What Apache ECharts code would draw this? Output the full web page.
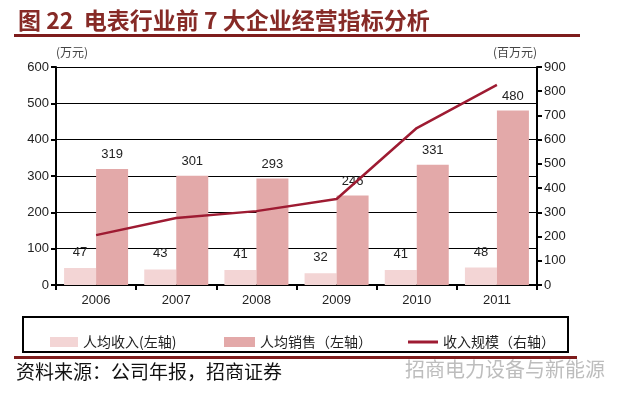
<!DOCTYPE html>
<html><head><meta charset="utf-8">
<script src="https://cdn.jsdelivr.net/npm/echarts@6/dist/echarts.min.js"></script>
<style>html,body{margin:0;padding:0;background:#fff}#c{width:625px;height:399px}</style>
</head><body><div id="c"></div>
<script>
const categories = ['2006','2007','2008','2009','2010','2011'];
const incomePerCapita = [47, 43, 41, 32, 41, 48];
const salesPerCapita = [319, 301, 293, 246, 331, 480];
const revenueScale = [206, 277, 305, 355, 648, 826];
const leftTicks = [0, 600, 100];
const rightTicks = [0, 900, 100];

const cjk = '"Noto Sans CJK SC", sans-serif';
const num = '"Liberation Sans", Arial, sans-serif';
const chart = echarts.init(document.getElementById('c'), null, {renderer:'canvas'});
chart.setOption({
  backgroundColor:'#fff',
  animation:false,
  title:{ text:'图 22  电表行业前 7 大企业经营指标分析', left:13, top:4,
    textStyle:{ fontFamily:cjk, fontSize:23, fontWeight:'bold', color:'#862A26' } },
  grid:{ left:56, right:88, top:67, bottom:114 },
  xAxis:{ type:'category', data:categories,
    axisLine:{ lineStyle:{ color:'#000', width:2 } },
    axisTick:{ show:true, length:5, lineStyle:{ color:'#000', width:2 } },
    axisLabel:{ fontFamily:num, fontSize:13, color:'#222', margin:9 } },
  yAxis:[
    { type:'value', min:leftTicks[0], max:leftTicks[1], interval:leftTicks[2],
      name:'(万元)', nameGap:9, nameTextStyle:{ fontFamily:cjk, fontSize:12, color:'#444', align:'left', padding:[0,0,0,0] },
      axisLine:{ show:true, lineStyle:{ color:'#000', width:2 } },
      axisTick:{ show:true, length:5, lineStyle:{ color:'#000', width:2 } },
      splitLine:{ show:true, lineStyle:{ color:'#000', width:1 } },
      axisLabel:{ fontFamily:num, fontSize:13, color:'#222', margin:7 } },
    { type:'value', min:rightTicks[0], max:rightTicks[1], interval:rightTicks[2],
      name:'(百万元)', nameGap:9, nameTextStyle:{ fontFamily:cjk, fontSize:12, color:'#444', align:'right' },
      axisLine:{ show:true, lineStyle:{ color:'#000', width:2 } },
      axisTick:{ show:true, length:5, lineStyle:{ color:'#000', width:2 } },
      splitLine:{ show:false },
      axisLabel:{ fontFamily:num, fontSize:13, color:'#222', margin:7 } }
  ],
  legend:[
    { left:45, top:330, itemWidth:28, itemHeight:10, icon:'rect', data:['人均收入(左轴)'],
      textStyle:{ fontFamily:cjk, fontSize:14, color:'#222' } },
    { left:219, top:330, itemWidth:31, itemHeight:10, icon:'rect', data:['人均销售（左轴）'],
      textStyle:{ fontFamily:cjk, fontSize:14, color:'#222' } },
    { left:403, top:330, itemWidth:30, itemHeight:3, icon:'rect', data:['收入规模（右轴）'],
      textStyle:{ fontFamily:cjk, fontSize:14, color:'#222' } }
  ],
  series:[
    { name:'人均收入(左轴)', type:'bar', data:incomePerCapita, barWidth:32, barGap:'0%',
      itemStyle:{ color:'#F3D5D5' },
      label:{ show:true, position:'top', distance:9, fontFamily:num, fontSize:13, color:'#222' } },
    { name:'人均销售（左轴）', type:'bar', data:salesPerCapita, barWidth:32, barGap:'0%',
      itemStyle:{ color:'#E3A9A9' },
      label:{ show:true, position:'top', distance:8, fontFamily:num, fontSize:13, color:'#222' } },
    { name:'收入规模（右轴）', type:'line', yAxisIndex:1, data:revenueScale, symbol:'none',
      lineStyle:{ color:'#9E1B32', width:2.5 }, itemStyle:{ color:'#9E1B32' } }
  ],
  graphic:[
    { type:'rect', shape:{ x:14, y:34, width:566, height:3 }, style:{ fill:'#7E1C1C' } },
    { type:'rect', shape:{ x:23, y:317, width:545, height:35 }, style:{ fill:null, stroke:'#000', lineWidth:2 } },
    { type:'rect', shape:{ x:14, y:356, width:563, height:3 }, style:{ fill:'#7E1C1C' } },
    { type:'text', left:16, top:362, style:{ text:'资料来源：公司年报，招商证券', fontFamily:cjk, fontSize:19, fill:'#111' } },
    { type:'text', left:405, top:359, style:{ text:'招商电力设备与新能源', fontFamily:cjk, fontSize:20, fill:'#BDBDBD' } }
  ]
});
</script></body></html>
